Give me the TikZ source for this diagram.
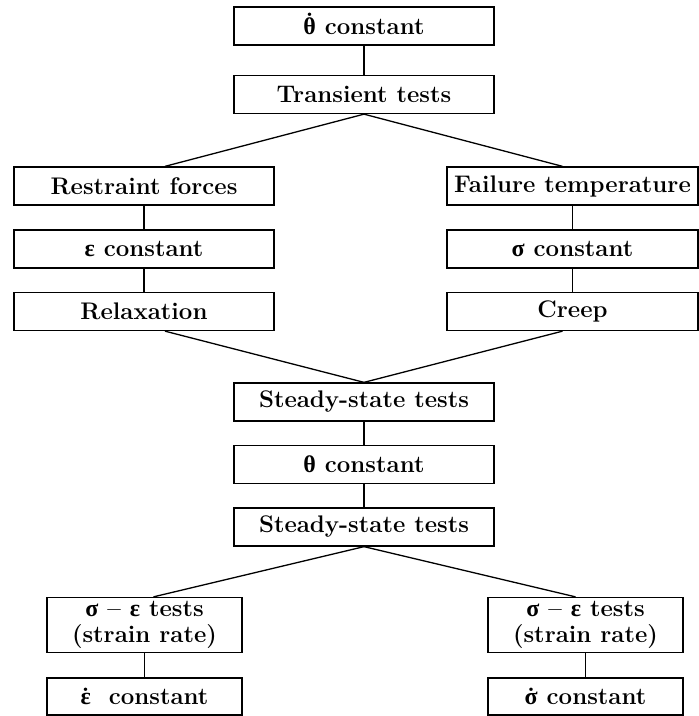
\documentclass[tikz,border=0pt]{standalone}
\usepackage{fontspec}
\newfontfamily\grk{Liberation Serif}
\newcommand{\dotop}[2]{\ooalign{#2\cr\hidewidth\raisebox{#1}{.}\hidewidth\cr}}
\tikzset{
    box/.style={draw, line width=1.3pt, fill=white, minimum width=260pt, minimum height=38pt,
        inner sep=0pt, align=center, font=\fontsize{24}{26}\selectfont\bfseries},
    sidebox/.style={box, minimum width=251pt},
    testbox/.style={box, minimum width=195pt},
    link/.style={line width=1.3pt}
}
\begin{document}
\begin{tikzpicture}[x=1pt, y=-1pt]
        \useasboundingbox (0, 0) rectangle (699, 716);

        % transient branch
        \node[box] (thetadot) at (364, 26) {\dotop{0.74em}{\grk θ} constant};
        \node[box] (transient) at (364, 94.5) {Transient tests};

        % restraint side
        \node[box] (restraint) at (144, 186) {Restraint forces};
        \node[box] (epsconst) at (144, 249) {{\grk ε} constant};
        \node[box] (relax) at (144, 311.5) {Relaxation};

        % failure side
        \node[sidebox] (failure) at (572.5, 186) {Failure temperature};
        \node[sidebox] (sigconst) at (572.5, 249) {{\grk σ} constant};
        \node[sidebox] (creep) at (572.5, 311.5) {Creep};

        % steady-state branch
        \node[box] (steadyA) at (364, 402) {Steady-state tests};
        \node[box] (thetaconst) at (364, 464.5) {{\grk θ} constant};
        \node[box] (steadyB) at (364, 527) {Steady-state tests};

        % strain rate tests
        \node[testbox, minimum height=55pt] (sigepsL) at (144.5, 625) {{\grk σ} -- {\grk ε} tests\\(strain rate)};
        \node[testbox, minimum height=37pt] (epsdot) at (144.5, 696.5) {\dotop{0.54em}{\grk ε}\ \ constant};
        \node[testbox, minimum height=55pt] (sigepsR) at (585.5, 625) {{\grk σ} -- {\grk ε} tests\\(strain rate)};
        \node[testbox, minimum height=37pt] (sigdot) at (585.5, 696.5) {\dotop{0.54em}{\grk σ} constant};

        % connectors
        \draw[link] (thetadot) -- (transient);
        \draw[link] (transient.south) -- ([xshift=21pt]restraint.north);
        \draw[link] (transient.south) -- ([xshift=-10pt]failure.north);
        \draw[link] (restraint) -- (epsconst);
        \draw[link] (epsconst) -- (relax);
        \draw[link] (failure) -- (sigconst);
        \draw[link] (sigconst) -- (creep);
        \draw[link] ([xshift=21pt]relax.south) -- (steadyA.north);
        \draw[link] ([xshift=-10pt]creep.south) -- (steadyA.north);
        \draw[link] (steadyA) -- (thetaconst);
        \draw[link] (thetaconst) -- (steadyB);
        \draw[link] (steadyB.south) -- ([xshift=9pt]sigepsL.north);
        \draw[link] (steadyB.south) -- ([xshift=-10pt]sigepsR.north);
        \draw[link] (sigepsL) -- (epsdot);
        \draw[link] (sigepsR) -- (sigdot);

\end{tikzpicture}
\end{document}
